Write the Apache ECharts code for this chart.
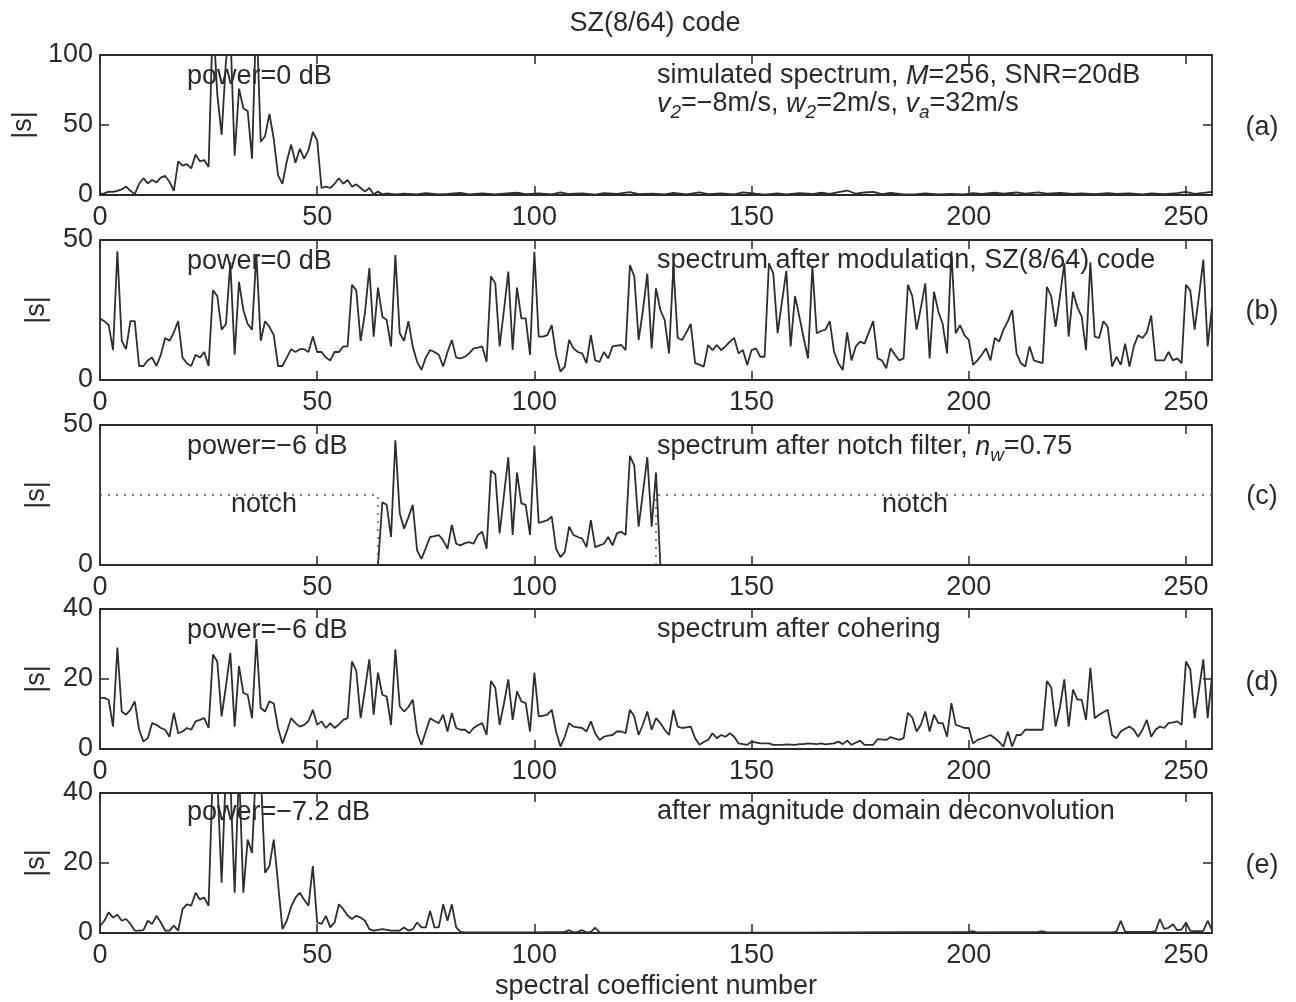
<!DOCTYPE html>
<html>
<head>
<meta charset="utf-8">
<script src="https://cdn.jsdelivr.net/npm/echarts@6/dist/echarts.min.js"></script>
<style>
html,body{margin:0;padding:0;background:#fff}
#chart{width:1296px;height:1002px}
</style>
</head>
<body>
<div id="chart"></div>
<script>
// Tick values
const xTickValues = [0, 50, 100, 150, 200, 250];
const yTicksA = [0, 50, 100];
const yTicksB = [0, 50];
const yTicksC = [0, 50];
const yTicksD = [0, 20, 40];
const yTicksE = [0, 20, 40];

// |s| of each spectrum, as [coefficient, magnitude]
const panelA = [
[0,0.8],[1,1.2],[2,2.4],[3,2.2],[4,3],[5,4],[6,6],[7,3],[8,0.6],[9,8],[10,12],[11,8.3],[12,10.7],[13,9],[14,12.4],[15,13.6],[16,9.5],[17,3],[18,24],[19,21],[20,22],[21,19],[22,29],[23,24],[24,25],[25,20],[26,128],[27,72],[28,43],[29,96],[30,118],[31,28],[32,76],[33,62],[34,60],[35,26],[36,132],[37,38],[38,42],[39,58],[40,40],[41,14],[42,8],[43,24],[44,36],[45,23],[46,33],[47,26],[48,32],[49,45],[50,39],[51,5],[52,6],[53,5],[54,8],[55,12],[56,8],[57,10.7],[58,6],[59,7.6],[60,5],[61,2.4],[62,5],[63,0.6],[64,2.4],[65,0.5],
[66,1.2],[68,0.4],[70,1.0],[73,0.5],[75,1.3],[78,0.4],[80,0.8],[83,1.5],[85,0.5],[88,1.2],[91,0.4],[93,1.0],[96,1.6],[98,0.6],[101,1.2],[104,0.4],[106,1.8],[108,0.7],[111,1.1],[114,0.3],[116,1.4],[119,0.8],[122,2.0],[124,0.6],[127,1.0],[130,0.4],[132,1.5],[135,0.5],[138,1.8],[140,0.6],[143,1.1],[146,0.4],[148,1.9],[151,0.9],[153,0.3],[156,1.2],[158,0.5],[161,1.3],[164,0.7],[166,1.6],[168,0.8],[170,2.0],[172,3.2],[174,0.9],[176,1.8],[178,2.2],[180,0.7],[182,1.5],[185,0.4],[188,0.6],[190,1.2],[193,0.4],[196,0.8],[199,0.5],[201,1.4],[203,0.8],[206,1.6],[208,0.9],[211,1.8],[213,1.0],[216,1.9],[218,0.9],[221,1.5],[224,0.7],[226,1.2],[229,0.6],[232,1.4],[234,0.8],[237,1.2],[240,0.5],[242,1.1],[245,0.6],[248,1.3],[250,2.2],[252,0.8],[254,1.5],[256,2.3]
];

const panelB = [
[0,22],[1,21],[2,19.6],[3,10.7],[4,46],[5,14],[6,11],[7,21],[8,21],[9,5],[10,5],[11,7],[12,8],[13,5],[14,9],[15,15],[16,14],[17,17],[18,21],[19,8],[20,6],[21,5],[22,9],[23,8],[24,10],[25,5],[26,32],[27,30],[28,18],[29,20],[30,42],[31,9],[32,35],[33,25],[34,20],[35,18],[36,45],[37,14],[38,21],[39,19],[40,16],[41,5],[42,5],[43,8],[44,11],[45,10],[46,11],[47,11],[48,10],[49,15.5],[50,10],[51,10],[52,8],[53,7],[54,10],[55,10],[56,12],[57,12],[58,34],[59,32],[60,14],[61,24],[62,40],[63,15.5],[64,33],[65,22.6],[66,21.4],[67,12],[68,44.6],[69,16.7],[70,14],[71,21],[72,12],[73,6.5],[74,3.6],[75,8],[76,10.7],[77,10],[78,9],[79,4.8],[80,10],[81,14.3],[82,8],[83,7.7],[84,8.3],[85,9.5],[86,11.3],[87,11.6],[88,12],[89,6.5],[90,37],[91,34.5],[92,12],[93,25],[94,38.7],[95,10.7],[96,33],[97,22],[98,22],[99,9],[100,45.8],[101,15.5],[102,15.5],[103,16],[104,19.6],[105,9],[106,3],[107,4.8],[108,14.3],[109,11.3],[110,10],[111,9.5],[112,6],[113,16],[114,7],[115,6.5],[116,10],[117,7.7],[118,12],[119,12.3],[120,12.5],[121,10.7],[122,41],[123,37],[124,14.3],[125,25],[126,38],[127,11.3],[128,32.7],[129,25],[130,21.4],[131,9.5],[132,40.5],[133,15],[134,14.3],[135,17],[136,20],[137,6],[138,5.5],[139,4.8],[140,12.5],[141,10.7],[142,12.5],[143,10.7],[144,12],[145,13.7],[146,15],[147,9.5],[148,10.7],[149,5.4],[150,10.7],[151,11.3],[152,8.3],[153,8.3],[154,41.7],[155,38],[156,16.7],[157,28],[158,39],[159,12],[160,30],[161,22.6],[162,15],[163,7.7],[164,40.5],[165,16.7],[166,17.5],[167,18],[168,21],[169,10],[170,6],[171,3.6],[172,17],[173,7],[174,12],[175,13.7],[176,13],[177,17],[178,21],[179,7.7],[180,7],[181,4.2],[182,11.3],[183,9],[184,7],[185,7.7],[186,34],[187,30],[188,18],[189,26],[190,34.5],[191,7.7],[192,31.5],[193,24.4],[194,20],[195,9.5],[196,46],[197,16.7],[198,19.6],[199,16],[200,14.3],[201,5.4],[202,7],[203,9],[204,11.3],[205,7],[206,15],[207,13.7],[208,18],[209,21],[210,25],[211,9.5],[212,6],[213,4.8],[214,12],[215,7],[216,6.5],[217,6],[218,33.3],[219,29.8],[220,19],[221,30],[222,41.7],[223,15.5],[224,31.5],[225,26],[226,22.6],[227,10.7],[228,42],[229,15.5],[230,15],[231,21],[232,19],[233,4.8],[234,8.3],[235,5.4],[236,13],[237,4.8],[238,12],[239,16],[240,15],[241,17],[242,23],[243,7],[244,7],[245,7],[246,10],[247,7],[248,7.7],[249,6],[250,34],[251,32],[252,18],[253,30],[254,43],[255,12],[256,26]
];

const panelC = [
[0,0],[64,0],[65,22.4],[66,21.5],[67,10],[68,44.5],[69,18.5],[70,13],[71,17],[72,21.5],[73,5.2],[74,2.2],[75,6],[76,10],[77,10.3],[78,10.7],[79,8.8],[80,5.8],[81,14.3],[82,7.6],[83,7],[84,7.8],[85,8.2],[86,7.6],[87,10.7],[88,11.9],[89,5.8],[90,33.7],[91,32.4],[92,11.3],[93,25],[94,38.5],[95,10.7],[96,33],[97,22],[98,21.5],[99,10.7],[100,42.7],[101,15],[102,15.5],[103,16],[104,17.3],[105,5.8],[106,2.8],[107,4.6],[108,13.7],[109,10.7],[110,10],[111,9.4],[112,6.4],[113,16],[114,6.4],[115,7],[116,7.6],[117,10],[118,7],[119,11.3],[120,11.9],[121,10.7],[122,39],[123,35.5],[124,13.7],[125,26],[126,38.5],[127,13.7],[128,33],[129,0],[256,0]
];

const panelD = [
[0,14.6],[1,14.6],[2,14],[3,6.4],[4,29],[5,10.7],[6,9.8],[7,11.2],[8,13.6],[9,5.5],[10,2.1],[11,3.1],[12,7.4],[13,6.9],[14,6],[15,5.5],[16,3.5],[17,10.3],[18,4.5],[19,5],[20,6],[21,5.5],[22,7.9],[23,8.3],[24,8.8],[25,6],[26,27],[27,25],[28,9.3],[29,18],[30,27.5],[31,6.4],[32,23.7],[33,16],[34,15.5],[35,8.8],[36,31.4],[37,11.7],[38,10.7],[39,13.6],[40,13],[41,6],[42,1.6],[43,5],[44,8.8],[45,7.4],[46,6.4],[47,6.9],[48,8],[49,11.2],[50,6.9],[51,7.9],[52,6],[53,7.4],[54,6],[55,7],[56,8.3],[57,8.8],[58,25],[59,22.3],[60,8.8],[61,17],[62,25.6],[63,9.8],[64,21.8],[65,15.5],[66,15],[67,6.9],[68,28.5],[69,12.2],[70,10.7],[71,12],[72,14.1],[73,4.5],[74,1.2],[75,5],[76,8.8],[77,8],[78,7.4],[79,9.8],[80,5],[81,10.3],[82,6],[83,5.5],[84,5.5],[85,4.5],[86,6],[87,6.8],[88,7.4],[89,4],[90,19.4],[91,17.5],[92,6.9],[93,13],[94,19.9],[95,8.3],[96,16.5],[97,13.6],[98,13.1],[99,5],[100,21.8],[101,9.3],[102,9.5],[103,9.8],[104,11.2],[105,5],[106,0.7],[107,3.5],[108,7.4],[109,6.4],[110,6.2],[111,6],[112,5],[113,7.9],[114,4.5],[115,2.6],[116,3.5],[117,3.8],[118,4],[119,5],[120,5],[121,4.5],[122,11.2],[123,9.3],[124,4],[125,7],[126,10.7],[127,5.5],[128,8.8],[129,7.4],[130,5.5],[131,4],[132,11.2],[133,6.4],[134,6],[135,6.2],[136,6.4],[137,3.1],[138,1.2],[139,2],[140,2.6],[141,4.5],[142,3.1],[143,4],[144,3.5],[145,4.5],[146,3.5],[147,1.6],[149,1.2],[150,2.1],[152,1.6],[154,1.6],[155,1.2],[157,1.2],[158,1.3],[160,1.2],[161,1.4],[162,1.4],[163,1.6],[165,1.4],[166,1.6],[167,1.3],[169,1.6],[170,2.1],[171,1.4],[172,2.4],[173,1.2],[175,2.4],[176,1.2],[178,1.2],[179,2.8],[181,2.6],[182,3.4],[184,2.6],[185,3.1],[186,10.3],[187,9],[188,5],[189,7],[190,10.7],[191,5],[192,9.8],[193,7.4],[194,7.4],[195,3.5],[196,13.1],[197,6.9],[198,6.5],[199,6],[200,6],[201,1.6],[202,2.6],[203,3],[204,3.5],[205,4],[206,3.1],[207,2],[208,0.7],[209,5],[210,0.7],[211,4],[212,4],[213,5.5],[214,5.5],[215,5.5],[216,5.5],[217,5.5],[218,19.4],[219,17.5],[220,6.4],[221,12],[222,19.9],[223,6.4],[224,17],[225,14.1],[226,14.1],[227,8.3],[228,23.2],[229,8.8],[230,9.8],[231,10.5],[232,11.2],[233,4],[234,3.1],[235,5],[236,5.8],[237,6.4],[238,5.5],[239,3.5],[240,5.5],[241,8.3],[242,3.5],[243,5.5],[244,6.4],[245,6],[246,7.4],[247,7.6],[248,7.9],[249,6.9],[250,25],[251,22.7],[252,8.8],[253,17],[254,25.6],[255,8.8],[256,20.8]
];

const panelE = [
[0,2],[1,3.5],[2,5.9],[3,4.4],[4,5.2],[5,3.5],[6,4],[7,2.6],[8,0.7],[9,0.7],[10,0.8],[11,3.5],[12,2.6],[13,4.9],[14,3],[15,0.7],[16,0.7],[17,2.1],[18,0.7],[19,6.8],[20,8.2],[21,7.8],[22,11.5],[23,9.6],[24,10.1],[25,7.8],[26,48],[27,44],[28,14.4],[29,47],[30,44],[31,11.5],[32,47],[33,11.5],[34,26.7],[35,22.9],[36,50],[37,46],[38,17.2],[39,19.1],[40,26.7],[41,14],[42,1.1],[43,3.5],[44,7.5],[45,10.1],[46,11.5],[47,9.5],[48,7.8],[49,19.1],[50,3],[51,2.6],[52,4.9],[53,1.6],[54,3],[55,8.2],[56,6.8],[57,5],[58,4],[59,4.9],[60,4.4],[61,3.5],[62,1.1],[63,0.7],[65,1.1],[67,0.7],[69,0.7],[70,1.6],[71,0.7],[72,1.1],[73,3],[74,1.6],[75,1.6],[76,6.3],[77,1.6],[78,1.6],[79,8.2],[80,3.5],[81,8.2],[82,1.6],[83,0.3],[84,0.2],[100,0.2],[107,0.3],[108,0.8],[109,0.2],[110,0.3],[111,0.8],[112,0.2],[113,0.3],[114,1.5],[115,0.2],[130,0.1],[160,0.1],[200,0.3],[201,0.5],[202,0.2],[216,0.3],[217,0.5],[218,0.2],[233,0.2],[234,0.4],[235,3.5],[236,0.3],[242,0.3],[243,0.5],[244,4],[245,1.2],[246,1.5],[247,2.5],[248,0.8],[249,1],[250,3],[251,0.6],[253,0.5],[254,0.6],[255,3.5],[256,0.8]
];

// Notch filter boundaries (dotted)
const notchLeft = [[0,25],[64,25],[64,0]];
const notchRight = [[128,0],[128,25],[256,25]];

const FONT = '"Liberation Sans", Arial, Helvetica, sans-serif';
const FS = 27;
const INK = '#2a2a2a';
const LINE = '#2e2e2e';

const panels = [
  {data: panelA, ymax: 100, step: 50, ticks: yTicksA},
  {data: panelB, ymax: 50,  step: 50, ticks: yTicksB},
  {data: panelC, ymax: 50,  step: 50, ticks: yTicksC},
  {data: panelD, ymax: 40,  step: 20, ticks: yTicksD},
  {data: panelE, ymax: 40,  step: 20, ticks: yTicksE}
];
const tops = [55, 240, 425, 609, 793];
const plotH = 140;

const grids = [], xAxes = [], yAxes = [], series = [];
const axisLine = {show: true, onZero: false, lineStyle: {color: INK, width: 1.8}};
const tickStyle = {color: INK, width: 1.5};
const labelStyle = {fontSize: FS, color: INK, fontFamily: FONT};

panels.forEach((p, k) => {
  grids.push({left: 100, width: 1112, top: tops[k], height: plotH});
  xAxes.push({
    type: 'value', gridIndex: k, position: 'bottom', min: 0, max: 256, interval: 50,
    axisLine: axisLine,
    axisTick: {show: true, inside: true, length: 9, lineStyle: tickStyle, customValues: xTickValues},
    axisLabel: Object.assign({margin: 9, customValues: xTickValues}, labelStyle),
    splitLine: {show: false}
  });
  xAxes.push({
    type: 'value', gridIndex: k, position: 'top', min: 0, max: 256, interval: 50,
    axisLine: axisLine,
    axisTick: {show: true, inside: true, length: 9, lineStyle: tickStyle, customValues: xTickValues},
    axisLabel: {show: false},
    splitLine: {show: false}
  });
  yAxes.push({
    type: 'value', gridIndex: k, position: 'left', min: 0, max: p.ymax, interval: p.step,
    axisLine: axisLine,
    axisTick: {show: true, inside: true, length: 9, lineStyle: tickStyle, customValues: p.ticks},
    axisLabel: Object.assign({margin: 7, customValues: p.ticks}, labelStyle),
    name: '|s|', nameLocation: 'middle', nameGap: 50, nameRotate: 90,
    nameTextStyle: labelStyle,
    splitLine: {show: false}
  });
  yAxes.push({
    type: 'value', gridIndex: k, position: 'right', min: 0, max: p.ymax, interval: p.step,
    axisLine: axisLine,
    axisTick: {show: true, inside: true, length: 9, lineStyle: tickStyle, customValues: p.ticks},
    axisLabel: {show: false},
    splitLine: {show: false}
  });
  series.push({
    type: 'line', xAxisIndex: 2 * k, yAxisIndex: 2 * k, data: p.data,
    showSymbol: false, symbol: 'none', clip: true, animation: false,
    lineStyle: {color: LINE, width: 1.8}, z: 3
  });
});

[notchLeft, notchRight].forEach(d => {
  series.push({
    type: 'line', xAxisIndex: 4, yAxisIndex: 4, data: d,
    showSymbol: false, symbol: 'none', animation: false, z: 2,
    lineStyle: {color: '#555', width: 1.4, type: [2, 6]}
  });
});

const sub = {fontSize: 19, fontStyle: 'italic', fontFamily: FONT, fill: INK, padding: [18, 0, 0, 0], lineHeight: 30};
const ital = {fontSize: FS, fontStyle: 'italic', fontFamily: FONT, fill: INK, lineHeight: 30};

function txt(x, y, text, align) {
  return {
    type: 'text', x: x, y: y, z: 10, silent: true,
    style: {
      text: text, fontSize: FS, fontFamily: FONT, fill: INK,
      align: align || 'left', verticalAlign: 'middle', lineHeight: 30,
      rich: {i: ital, s: sub}
    }
  };
}

const graphics = [
  txt(655, 24, 'SZ(8/64) code', 'center'),
  txt(187, 77, 'power=0 dB'),
  txt(657, 76, 'simulated spectrum, {i|M}=256, SNR=20dB'),
  txt(657, 104, '{i|v}{s|2}=\u22128m/s, {i|w}{s|2}=2m/s, {i|v}{s|a}=32m/s'),
  txt(1262, 128, '(a)', 'center'),
  txt(187, 262, 'power=0 dB'),
  txt(657, 261, 'spectrum after modulation, SZ(8/64) code'),
  txt(1262, 312, '(b)', 'center'),
  txt(187, 447, 'power=\u22126 dB'),
  txt(657, 447, 'spectrum after notch filter, {i|n}{s|w}=0.75'),
  txt(264, 505, 'notch', 'center'),
  txt(915, 505, 'notch', 'center'),
  txt(1262, 497, '(c)', 'center'),
  txt(187, 631, 'power=\u22126 dB'),
  txt(657, 630, 'spectrum after cohering'),
  txt(1262, 683, '(d)', 'center'),
  txt(187, 813, 'power=\u22127.2 dB'),
  txt(657, 812, 'after magnitude domain deconvolution'),
  txt(1262, 866, '(e)', 'center'),
  txt(656, 987, 'spectral coefficient number', 'center')
];

const chart = echarts.init(document.getElementById('chart'), null, {renderer: 'canvas'});
chart.setOption({
  backgroundColor: '#ffffff',
  animation: false,
  grid: grids,
  xAxis: xAxes,
  yAxis: yAxes,
  series: series,
  graphic: graphics
});
</script>
</body>
</html>
